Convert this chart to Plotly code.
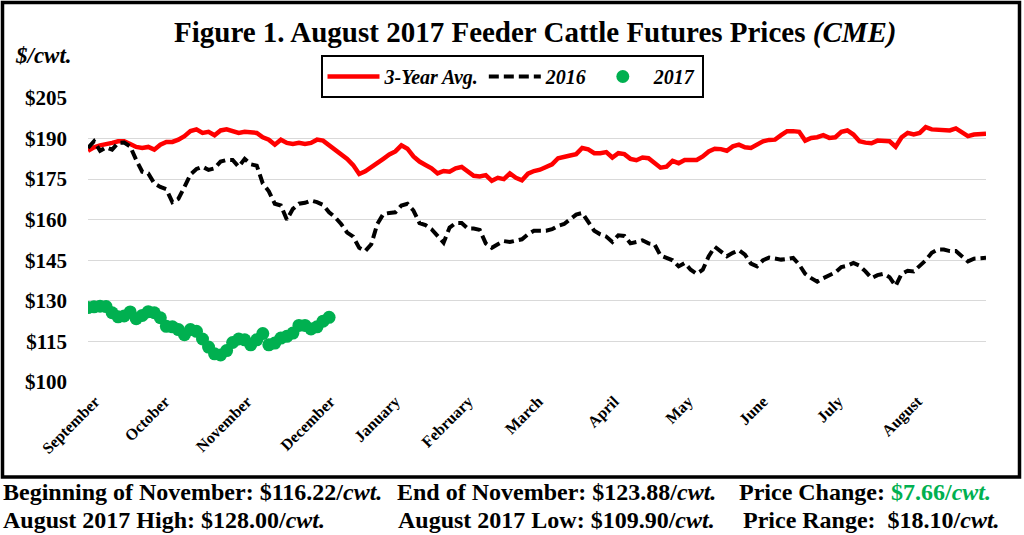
import plotly.graph_objects as go

# ---------------- data ----------------
avg3 = [185.5, 186.75, 187.5, 187.75, 188.4, 189, 189, 188, 186.9, 186.5,
        186.9, 185.9, 187.75, 188.75, 188.75, 189.6, 190.9, 192.75, 193.4, 192.1,
        192.5, 191.25, 193, 193.4, 192.75, 192.1, 192.5, 192.5, 192.1, 190.5,
        189.6, 187.75, 189.6, 188.4, 188, 188.4, 188, 188.4, 189.6, 189.25,
        187.5, 185.9, 184.25, 182.5, 180.2, 176.9, 177.9, 179.6, 181.3, 182.5,
        184.1, 185.25, 187.5, 186.25, 183.4, 181.5, 180.25, 179, 177.1, 178,
        177.75, 179, 179.5, 177.75, 176.25, 176, 176.5, 174.4, 175.5, 175,
        177.1, 175.5, 174.6, 177, 178, 178.5, 179.6, 180.5, 182.75, 183.4,
        183.75, 184.25, 186.5, 186, 184.6, 184.6, 185, 183, 184.6, 184.25,
        182.5, 182, 183, 182.75, 181.25, 179.25, 179.6, 181.75, 180.9, 182.1,
        182.1, 182.1, 183.4, 185.25, 186.25, 186.1, 185.5, 187.1, 187.75, 186.75,
        186.5, 187.75, 189, 189.5, 189.6, 191.25, 192.75, 192.75, 192.5, 189.25,
        190.25, 190.5, 191.25, 190.25, 190.5, 192.5, 193, 191.5, 189, 188.5,
        188.25, 189.25, 189.25, 189, 187, 190.5, 192.1, 191.5, 192.1, 194.25,
        193.4, 193.4, 193.1, 193, 193.75, 192.1, 190.9, 191.5, 191.75, 191.75]

y2016 = [186.5, 189, 185.5, 186.75, 185.9, 188.4, 188.5, 187.1, 182.1, 177.75,
         177.1, 173.4, 172.1, 171.25, 166.5, 167.75, 172.1, 176.75, 178.75, 179.6,
         178.4, 179, 181.5, 182.1, 182.1, 179.6, 182.5, 180.5, 180, 173.4,
         170.5, 165.9, 165.25, 160, 164, 165.9, 166.25, 167.1, 166.5, 165.5,
         162.75, 160.9, 158.4, 155.25, 153.75, 149.6, 148.4, 150.9, 158.4, 162.1,
         162.5, 162.75, 165.25, 165.9, 163.4, 158.75, 158, 156.5, 154, 151.5,
         157.1, 158.75, 158.75, 156.75, 156.75, 156.25, 151.25, 149.6, 150.9, 152.1,
         151.75, 152.1, 152.75, 154.6, 155.9, 155.9, 155.9, 156.5, 157.75, 158.4,
         160.25, 161.9, 162.5, 159, 155.9, 154.6, 153.75, 151.75, 154.25, 154,
         151.25, 151.75, 152.4, 151.25, 150.9, 146.75, 145.9, 145, 142.75, 144,
         141.5, 140, 141.5, 146.5, 150, 148.1, 146.5, 147.75, 148.75, 147.1,
         143.75, 142.75, 145, 146, 145.5, 145.25, 145.5, 145.9, 143.4, 140,
         138.4, 137.1, 138.4, 139.6, 140.5, 142.5, 143, 144, 143, 140.9,
         138.4, 139.5, 140, 138.75, 135.5, 140, 141.1, 140.9, 142.75, 145,
         147.75, 149, 149, 148.4, 148.4, 146.25, 144.6, 145.6, 145.9, 145.9]

y2017 = [127.5, 127.8, 128.0, 127.9, 125.6, 124.1, 124.4, 125.9, 123.4, 124.6,
         126.0, 125.6, 123.75, 120.6, 120.4, 119.4, 117.5, 119.4, 118.75, 115.9,
         112.9, 110.4, 110.0, 111.6, 114.6, 115.9, 115.6, 113.75, 115.6, 117.9,
         113.75, 114.4, 116.25, 116.9, 118.1, 120.9, 120.9, 119.6, 120.4, 122.5,
         123.9]

month_labels = ["September", "October", "November", "December", "January", "February",
                "March", "April", "May", "June", "July", "August"]
month_ticks = [1.2, 12.8, 26.4, 40.2, 51.0, 63.1, 74.7, 87.3, 99.6, 112.0, 124.5, 137.6]

y_ticks = [100, 115, 130, 145, 160, 175, 190, 205]

FONT = "Liberation Serif"

fig = go.Figure()
fig.add_trace(go.Scatter(
    x=list(range(len(avg3))), y=avg3, mode="lines", name="3-Year Avg.",
    line=dict(color="#FF0000", width=4.5)))
fig.add_trace(go.Scatter(
    x=list(range(len(y2016))), y=y2016, mode="lines", name="2016",
    line=dict(color="#000000", width=4, dash="10px,5px")))
fig.add_trace(go.Scatter(
    x=list(range(len(y2017))), y=y2017, mode="markers", name="2017",
    marker=dict(color="#00B050", size=13, line=dict(width=0))))

# plot area in px: x 88..986, y 98..382
L, R, T, B = 88, 38, 98, 153
W, H = 1024, 535
pw, ph = W - L - R, H - T - B


def px(x):
    return (x - L) / pw


def py(y):
    return (H - B - y) / ph


fig.update_layout(
    width=W, height=H,
    margin=dict(l=L, r=R, t=T, b=B),
    paper_bgcolor="white", plot_bgcolor="white",
    font=dict(family=FONT, color="black"),
    showlegend=True,
    legend=dict(
        orientation="h", x=px(512), xanchor="center", y=py(55), yanchor="top",
        bordercolor="black", borderwidth=2, bgcolor="white",
        font=dict(family=FONT, size=20, weight="bold", style="italic", color="black"),
        itemwidth=52, tracegroupgap=0,
    ),
    xaxis=dict(
        range=[0, len(avg3) - 1], tickmode="array", tickvals=month_ticks,
        ticktext=month_labels, tickangle=-45, showgrid=False, zeroline=False,
        showline=False, ticks="", ticklabelstandoff=6,
        tickfont=dict(family=FONT, size=16, weight="bold", color="black"),
    ),
    yaxis=dict(
        range=[100, 205], tickmode="array", tickvals=y_ticks,
        ticktext=["$" + str(v) for v in y_ticks],
        showgrid=True, gridcolor="#D9D9D9", gridwidth=1, zeroline=False,
        showline=False, ticks="", ticklabelstandoff=20,
        tickfont=dict(family=FONT, size=21, weight="bold", color="black"),
    ),
)

fig.add_shape(type="rect", xref="paper", yref="paper",
              x0=px(2.5), x1=px(1019.5), y0=py(477), y1=py(2.5),
              line=dict(color="black", width=3.5), fillcolor="rgba(0,0,0,0)", layer="below")

fig.add_annotation(xref="paper", yref="paper", x=px(535), y=py(33),
                   xanchor="center", yanchor="middle", showarrow=False,
                   text="<b>Figure 1. August 2017 Feeder Cattle Futures Prices <i>(CME)</i></b>",
                   font=dict(family=FONT, size=29, color="black"))
fig.add_annotation(xref="paper", yref="paper", x=px(13), y=py(56),
                   xanchor="left", yanchor="middle", showarrow=False,
                   text="<b><i>$/cwt.</i></b>",
                   font=dict(family=FONT, size=23, color="black"))

bot_font = dict(family=FONT, size=24, color="black")
rows = [
    (1, 492, "<b>Beginning of November: $116.22/<i>cwt.</i></b>"),
    (395, 492, "<b>End of November: $123.88/<i>cwt.</i></b>"),
    (737, 492, "<b>Price Change: <span style='color:#00B050'>$7.66/<i>cwt.</i></span></b>"),
    (1, 520, "<b>August 2017 High: $128.00/<i>cwt.</i></b>"),
    (396, 520, "<b>August 2017 Low: $109.90/<i>cwt.</i></b>"),
    (741, 520, "<b>Price Range:  $18.10/<i>cwt.</i></b>"),
]
for x0, y0, t in rows:
    fig.add_annotation(xref="paper", yref="paper", x=px(x0), y=py(y0),
                       xanchor="left", yanchor="middle", showarrow=False,
                       text=t, font=bot_font)

fig.write_html(
    "out.html",
    config={"displayModeBar": False},
    post_script="document.body.style.margin='0px';"
                "document.documentElement.style.overflow='hidden';"
                "document.body.style.overflow='hidden';",
)
